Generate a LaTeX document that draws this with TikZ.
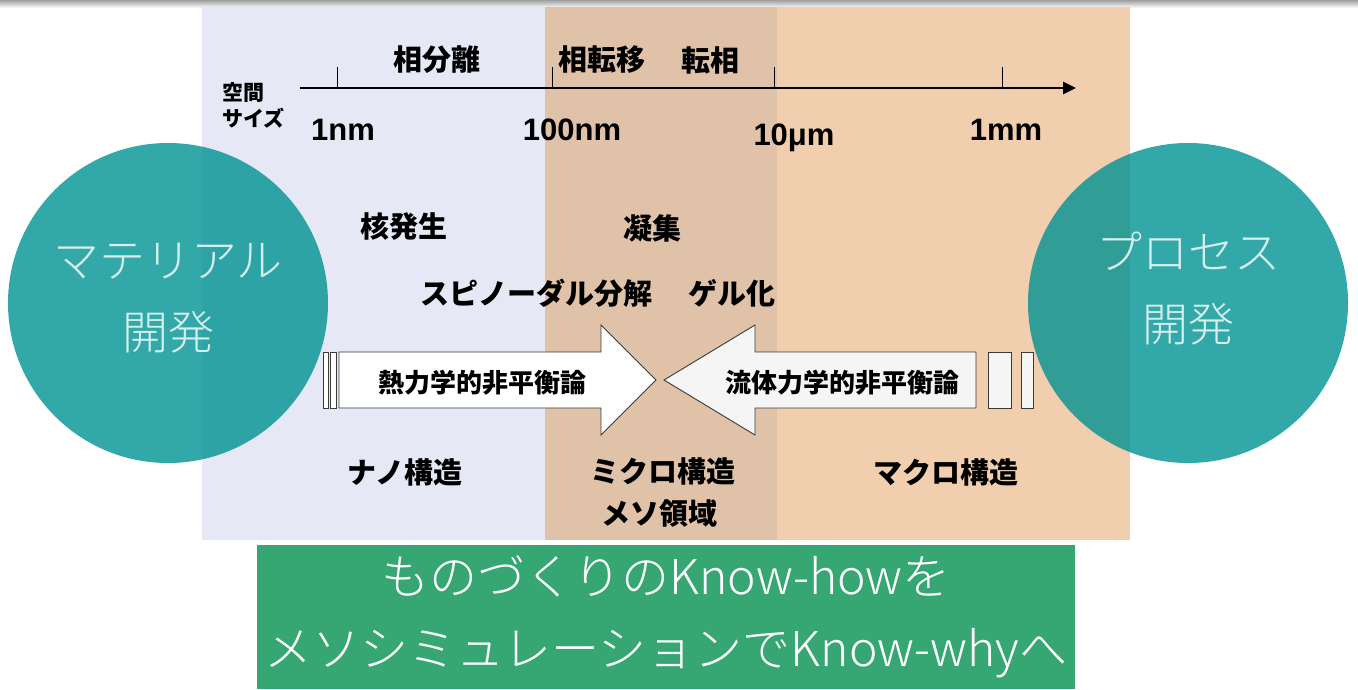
\documentclass[tikz,border=0pt]{standalone}
\usepackage{fontspec}
\setmainfont{Noto Sans CJK JP}
\newfontfamily\jpfont{Noto Sans CJK JP}
\newfontfamily\jplight{Noto Sans CJK JP Light}
\newfontfamily\numfont{Liberation Sans}
\usetikzlibrary{arrows.meta}
\definecolor{nanobg}{HTML}{E6E9F5}
\definecolor{mesobg}{HTML}{DFC2A7}
\definecolor{macrobg}{HTML}{F0CEAE}
\definecolor{circfill}{HTML}{009292}
\definecolor{circtext}{HTML}{D4EFEC}
\definecolor{bandgreen}{HTML}{36A673}
\definecolor{arrowgray}{HTML}{F5F5F5}
\definecolor{edgegray}{HTML}{3A3A3A}
\tikzset{
	lbl/.style={inner sep=0pt, font=\jpfont\bfseries\fontsize{29}{34}\selectfont},
	num/.style={inner sep=0pt, anchor=base, font=\numfont\bfseries\fontsize{31}{34}\selectfont},
	theory/.style={inner sep=0pt, font=\jpfont\bfseries\fontsize{26}{30}\selectfont},
	blockarrow/.style={draw=edgegray, line width=0.9pt, line join=miter},
	devcircle/.style={circle, fill=circfill, fill opacity=0.8, minimum size=320pt, inner sep=0pt},
	circtxt/.style={inner sep=0pt, align=center, text=circtext, font=\jplight\fontsize{46}{72}\selectfont},
}
\begin{document}
\begin{tikzpicture}[x=1pt, y=-1pt]
			\useasboundingbox (0,0) rectangle (1358,689);
			\shade[top color=gray!75, bottom color=white] (0,0) rectangle (1358,8);

			% scale bands
			\fill[nanobg] (202,7) rectangle (545,540);
			\fill[mesobg] (545,7) rectangle (777,540);
			\fill[macrobg] (777,7) rectangle (1130,540);

			% size axis
			\coordinate (axstart) at (300,88);
			\coordinate (axend) at (1076,88);
			\draw[line width=2.6pt, -{Triangle[length=13pt, width=12pt]}] (axstart) -- (axend);
			\foreach \t/\x in {a/337, b/552, c/774, d/1002}
				\draw[line width=0.8pt] (\x,88) coordinate (tick\t) -- ++(0,-21);

			\draw node[inner sep=0pt, anchor=west, align=left, font=\jpfont\bfseries\fontsize{21}{26}\selectfont] (sizelbl) at (222,105) {空間\\サイズ};
			\draw node[num] (nm1) at (343,140) {1nm};
			\draw node[num] (nm100) at (572,140) {100nm};
			\draw node[num] (um10) at (794,145) {10μm};
			\draw node[num] (mm1) at (1006,140) {1mm};

			\draw node[lbl] (sepa) at (437,60) {相分離};
			\draw node[lbl] (trans) at (602,60) {相転移};
			\draw node[lbl] (inver) at (710,60) {転相};
			\draw node[lbl] (nucl) at (404,227) {核発生};
			\draw node[lbl] (aggr) at (652,228) {凝集};
			\draw node[lbl] (spin) at (536,293) {スピノーダル分解};
			\draw node[lbl] (gel) at (732,293) {ゲル化};
			\draw node[lbl] (nano) at (405,472) {ナノ構造};
			\draw node[lbl] (micro) at (663,471) {ミクロ構造};
			\draw node[lbl] (meso) at (659,513) {メソ領域};
			\draw node[lbl] (macro) at (946,472) {マクロ構造};

			% two block arrows meeting in the mesoscale
			\draw[blockarrow, fill=white] (323,352) rectangle (328,408);
			\draw[blockarrow, fill=white] (330,352) rectangle (336,408);
			\draw[blockarrow, fill=white] (339,352) -- (601,352) -- (601,325) -- (656,380) -- (601,435) -- (601,408) -- (339,408) -- cycle;
			\draw[blockarrow, fill=arrowgray] (1021,352) rectangle (1033,408);
			\draw[blockarrow, fill=arrowgray] (988,352) rectangle (1011,408);
			\draw[blockarrow, fill=arrowgray] (976,352) -- (755,352) -- (755,325) -- (664,380) -- (755,435) -- (755,408) -- (976,408) -- cycle;
			\draw node[theory] (thermo) at (482,383) {熱力学的非平衡論};
			\draw node[theory] (fluid) at (842,383) {流体力学的非平衡論};

			\draw node[devcircle] (matcircle) at (168,303) {};
			\draw node[devcircle] (proccircle) at (1188,303) {};
			\draw node[circtxt] (mattext) at (168,298) {マテリアル\\開発};
			\draw node[circtxt] (proctext) at (1188,289) {プロセス\\開発};

			\draw node[fill=bandgreen, minimum width=818pt, minimum height=144pt, inner sep=0pt, align=center, text=white, font=\jplight\fontsize{48}{72}\selectfont] (knowhow) at (666,617) {ものづくりのKnow-howを\\メソシミュレーションでKnow-whyへ};
		\end{tikzpicture}
\end{document}
